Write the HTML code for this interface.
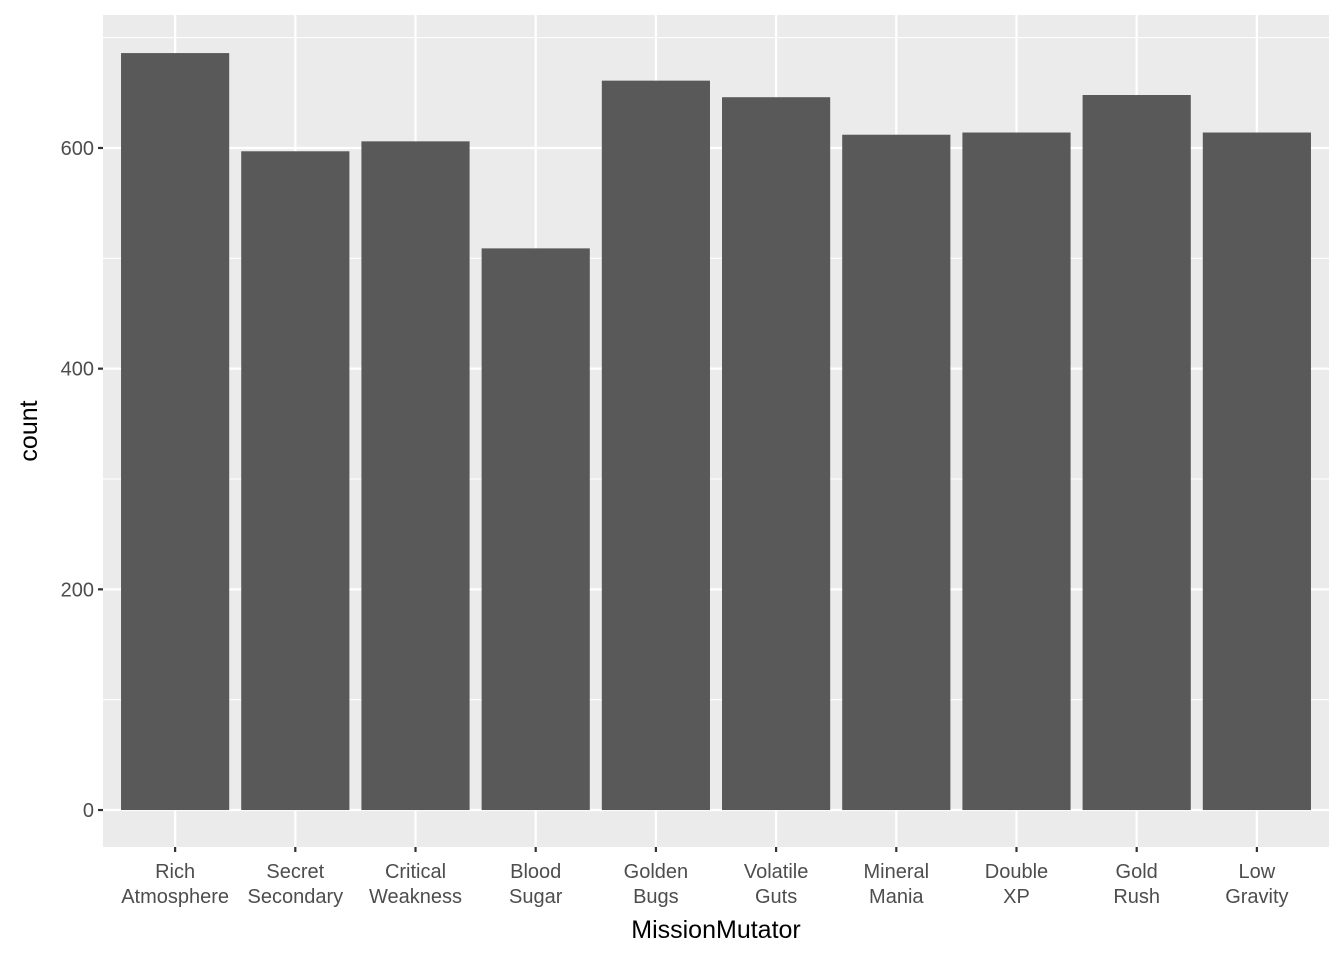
<!DOCTYPE html>
<html><head><meta charset="utf-8"><style>
body{margin:0;background:#fff;font-family:"Liberation Sans",sans-serif;}
</style></head><body>
<svg width="1344" height="960" xmlns="http://www.w3.org/2000/svg">
<g id="chart"></g>
</svg>
<script>
const categories=["Rich\nAtmosphere","Secret\nSecondary","Critical\nWeakness","Blood\nSugar","Golden\nBugs","Volatile\nGuts","Mineral\nMania","Double\nXP","Gold\nRush","Low\nGravity"];
const counts=[686,597,606,509,661,646,612,614,648,614];
const yTicks=[0,200,400,600];
const yMinor=[100,300,500,700];

const ns="http://www.w3.org/2000/svg";
const g=document.getElementById("chart");
const P={l:103,r:1329,t:15,b:847};
const yMin=-33.5,yMax=720.5;
function y(v){return P.b-(v-yMin)/(yMax-yMin)*(P.b-P.t);}
const step=(P.r-P.l)/(categories.length-1+1.2);
function x(i){return P.l+step*(0.6+i);}
function el(t,a,parent){const e=document.createElementNS(ns,t);for(const k in a)e.setAttribute(k,a[k]);(parent||g).appendChild(e);return e;}

const bg=el("rect",{x:P.l,y:P.t,width:P.r-P.l,height:P.b-P.t,fill:"#ebebeb"});


yMinor.forEach(v=>{const l=el("line",{x1:P.l,x2:P.r,y1:y(v),y2:y(v),stroke:"#fff","stroke-width":1.1});

});
yTicks.forEach(v=>{const l=el("line",{x1:P.l,x2:P.r,y1:y(v),y2:y(v),stroke:"#fff","stroke-width":2.2});


const tk=el("line",{x1:P.l-5,x2:P.l,y1:y(v),y2:y(v),stroke:"#333","stroke-width":2.2});


const t=el("text",{x:P.l-9,y:y(v)+7,"text-anchor":"end","font-size":"20",fill:"#4d4d4d"});
t.textContent=v;

});
categories.forEach((c,i)=>{const l=el("line",{x1:x(i),x2:x(i),y1:P.t,y2:P.b,stroke:"#fff","stroke-width":2.2});

});
const bw=step*0.9;
categories.forEach((c,i)=>{
const b=el("rect",{x:x(i)-bw/2,y:y(counts[i]),width:bw,height:y(0)-y(counts[i]),fill:"#595959"});


const tk=el("line",{x1:x(i),x2:x(i),y1:P.b,y2:P.b+5,stroke:"#333","stroke-width":2.2});


const t=el("text",{x:x(i),"text-anchor":"middle","font-size":"20",fill:"#4d4d4d"});


c.split("\n").forEach((s,j)=>{const ts=el("tspan",{x:x(i),y:878+j*25},t);ts.textContent=s;});
});
const xt=el("text",{x:(P.l+P.r)/2,y:938,"text-anchor":"middle","font-size":"25",fill:"#000"});
xt.textContent="MissionMutator";


const yt=el("text",{x:0,y:0,"text-anchor":"middle","font-size":"25",fill:"#000",transform:"translate(37,"+((P.t+P.b)/2)+") rotate(-90)"});
yt.textContent="count";


</script>
</body></html>
